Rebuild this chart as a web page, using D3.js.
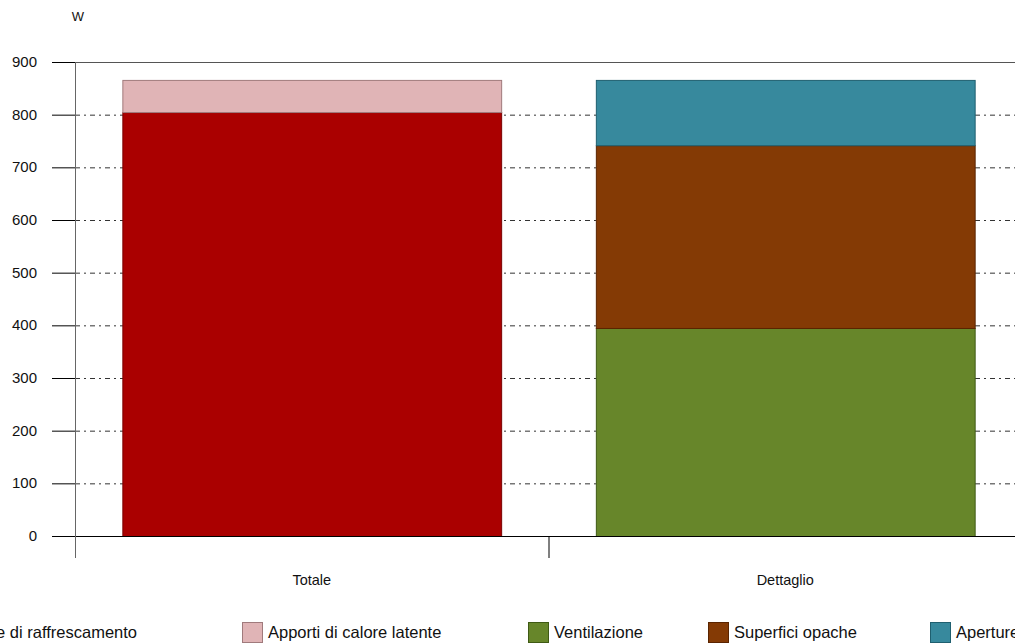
<!DOCTYPE html>
<html>
<head>
<meta charset="utf-8">
<script src="https://cdn.jsdelivr.net/npm/d3@7"></script>
<style>
  body { margin: 0; background: #fff; }
  svg { display: block; font-family: "Liberation Sans", Arial, sans-serif; }
</style>
</head>
<body>
<svg width="1015" height="644"></svg>
<script>
// data
var categories = ["Totale", "Dettaglio"];
var seriesNames = ["Carico sensibile di raffrescamento", "Apporti di calore latente", "Ventilazione", "Superfici opache", "Aperture"];
var totaleValues = [805, 61, 0, 0, 0];
var dettaglioValues = [0, 0, 395, 347, 124];
var yTicks = [0, 100, 200, 300, 400, 500, 600, 700, 800, 900];
var unitLabel = "W";

var colors = ["#aa0000", "#e0b4b6", "#67862a", "#843a05", "#37899d"];
var strokes = ["#7a0000", "#a07a7c", "#3f5a14", "#5a2400", "#1f5f6f"];
var legendX = [null, 242, 528, 708, 930];

var svg = d3.select("svg");
var plotLeft = 75, plotRight = 1022, plotTop = 62, plotBottom = 536;

var x = d3.scaleBand().domain(categories).range([plotLeft, plotRight])
    .paddingInner(0.2).paddingOuter(0.1);
var y = d3.scaleLinear().domain([0, 900]).range([plotBottom, plotTop]);

var rows = categories.map(function(c, i) {
  var vals = i == 0 ? totaleValues : dettaglioValues;
  var r = {cat: c};
  seriesNames.forEach(function(s, j) { r[s] = vals[j]; });
  return r;
});
var stack = d3.stack().keys(seriesNames)(rows);

// grid lines
svg.append("g").selectAll("line")
  .data(yTicks.filter(function(t) { return t > 0 && t < 900; }))
  .enter().append("line")
  .attr("x1", plotLeft).attr("x2", 1015)
  .attr("y1", function(d) { return y(d) + 0.5; })
  .attr("y2", function(d) { return y(d) + 0.5; })
  .attr("stroke", "#333")
  .attr("stroke-dasharray", "5,4,2,4");

// top border + tick marks
svg.append("line").attr("x1", 52).attr("x2", 1015)
  .attr("y1", y(900) + 0.5).attr("y2", y(900) + 0.5)
  .attr("stroke", "#555");
svg.append("g").selectAll("line").data(yTicks).enter().append("line")
  .attr("x1", 52).attr("x2", plotLeft)
  .attr("y1", function(d) { return y(d) + 0.5; })
  .attr("y2", function(d) { return y(d) + 0.5; })
  .attr("stroke", "#000");

// bars
var layer = svg.append("g").selectAll("g").data(stack).enter().append("g")
  .attr("fill", function(d, i) { return colors[i]; })
  .attr("stroke", function(d, i) { return strokes[i]; });
layer.selectAll("rect")
  .data(function(d) { return d.filter(function(p) { return p[1] - p[0] > 0; }); })
  .enter().append("rect")
  .attr("x", function(d) { return x(d.data.cat) + 0.5; })
  .attr("width", x.bandwidth())
  .attr("y", function(d) { return y(d[1]) + 0.5; })
  .attr("height", function(d) { return y(d[0]) - y(d[1]); });

// zero line
svg.append("line").attr("x1", 52).attr("x2", 1015)
  .attr("y1", y(0) + 0.5).attr("y2", y(0) + 0.5)
  .attr("stroke", "#000");

// vertical axis + category separator
svg.append("line").attr("x1", plotLeft + 0.5).attr("x2", plotLeft + 0.5)
  .attr("y1", plotTop).attr("y2", plotBottom + 22).attr("stroke", "#666");
svg.append("line").attr("x1", plotLeft + x.step() + 0.5).attr("x2", plotLeft + x.step() + 0.5)
  .attr("y1", plotBottom).attr("y2", plotBottom + 22).attr("stroke", "#000");

// tick labels
svg.append("g").selectAll("text").data(yTicks).enter().append("text")
  .attr("x", 37).attr("y", function(d) { return y(d) + 5; })
  .attr("text-anchor", "end").attr("font-size", 15).attr("fill", "#111")
  .text(function(d) { return d; });

svg.append("text").attr("x", 78).attr("y", 21)
  .attr("text-anchor", "middle").attr("font-size", 13).attr("fill", "#111")
  .text(unitLabel);

svg.append("g").selectAll("text").data(categories).enter().append("text")
  .attr("x", function(d) { return x(d) + x.bandwidth() / 2; })
  .attr("y", 585).attr("text-anchor", "middle").attr("font-size", 14.5).attr("fill", "#111")
  .text(function(d) { return d; });

// legend
var leg = svg.append("g").selectAll("g").data(seriesNames).enter().append("g");
leg.append("rect").attr("x", 0.5).attr("y", 0.5).attr("width", 20).attr("height", 20)
  .attr("fill", function(d, i) { return colors[i]; })
  .attr("stroke", function(d, i) { return strokes[i]; });
leg.append("text").attr("x", 26).attr("y", 16)
  .attr("font-size", 16.5).attr("fill", "#111")
  .text(function(d) { return d; });
leg.attr("transform", function(d, i) {
  var lx = legendX[i];
  if (lx == null) {
    // first label is cut off at the left edge, it ends near x=137
    lx = 137 - 26 - this.querySelector("text").getComputedTextLength();
  }
  return "translate(" + lx + ",622)";
});
</script>
</body>
</html>
